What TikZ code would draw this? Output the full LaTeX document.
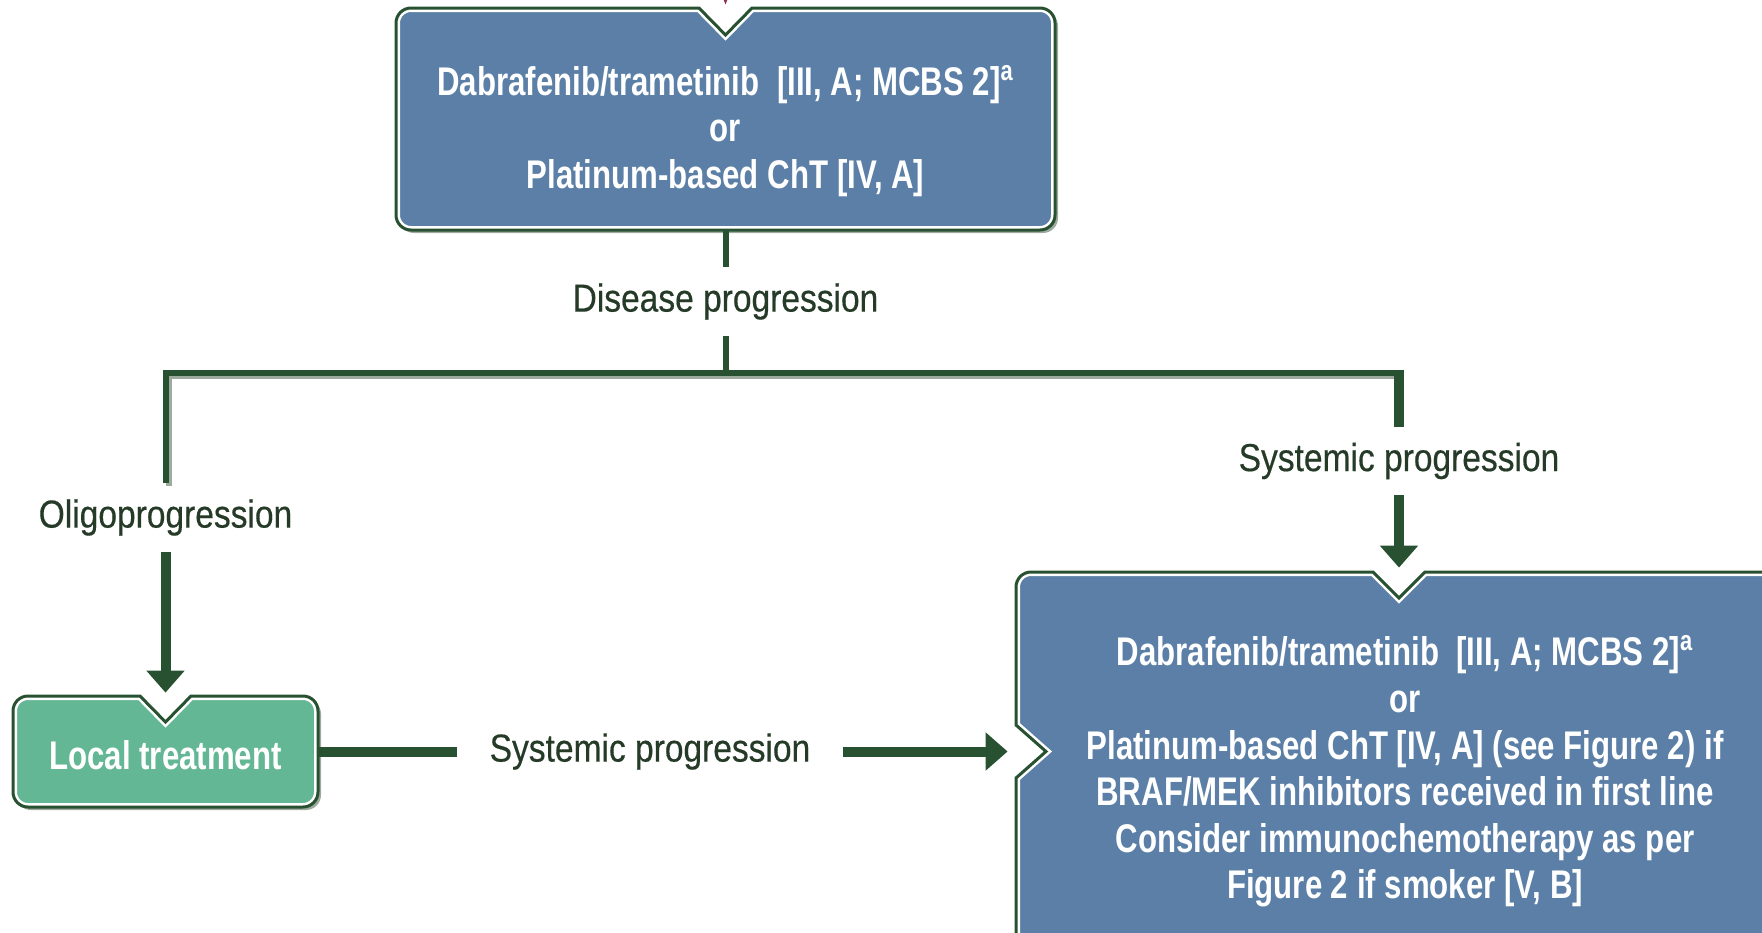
\documentclass[tikz,border=0pt]{standalone}
\usepackage{fontspec}
\setmainfont{Liberation Sans}
\newfontfamily\boxfont[FakeStretch=0.78]{Liberation Sans}
\newfontfamily\labelfont[FakeStretch=0.86,FakeBold=0.4]{Liberation Sans}
\usetikzlibrary{arrows.meta,positioning}

\definecolor{wiregreen}{HTML}{285132}
\definecolor{shadowgrey}{HTML}{9DAA9E}
\definecolor{steelbox}{HTML}{5B7FA6}
\definecolor{mintbox}{HTML}{63B794}
\definecolor{labelink}{HTML}{253B28}
\definecolor{tipmaroon}{HTML}{8E2F55}

% notched box: shadow, fill, white inner rim, green outline
\newcommand\notchedbox[2]{
	\fill[shadowgrey, transform canvas={shift={(1.5pt,-1.5pt)}}] #2;
	\fill[#1] #2;
	\begin{scope}
		\clip #2;
		\draw[white, line width=4pt] #2;
	\end{scope}
	\draw[wiregreen, line width=1.5pt, line join=miter] #2;
}

\tikzset{
	boxarea/.style={rectangle, inner sep=0pt},
	boxtext/.style={text=white, align=center, inner sep=0pt,
		font=\boxfont\bfseries\fontsize{20}{23.3}\selectfont},
	steplabel/.style={text=labelink, inner xsep=16pt, inner ysep=0pt, minimum height=34pt,
		font=\labelfont\fontsize{19.5}{22}\selectfont},
	thinwire/.style={draw=wiregreen, line width=3pt},
	thickwire/.style={draw=wiregreen, line width=5pt},
	flowtip/.style={-{Triangle[width=18.5pt,length=11pt]}},
}

\begin{document}
\begin{tikzpicture}[x=0.5pt, y=-0.5pt]

	\useasboundingbox (0,0) rectangle (1762,932);

	% boxes
	\notchedbox{steelbox}{(396,119) -- (396,23) arc[start angle=180, end angle=270, radius=15] -- (699,8) -- (725.5,35) -- (752,8) -- (1040,8) arc[start angle=270, end angle=360, radius=15] -- (1055,215) arc[start angle=0, end angle=90, radius=15] -- (411,230) arc[start angle=90, end angle=180, radius=15] -- cycle}
	\notchedbox{mintbox}{(13,752) -- (13,711) arc[start angle=180, end angle=270, radius=15] -- (140,696) -- (165.5,722) -- (191,696) -- (303,696) arc[start angle=270, end angle=360, radius=15] -- (318,792) arc[start angle=0, end angle=90, radius=15] -- (28,807) arc[start angle=90, end angle=180, radius=15] -- cycle}
	\notchedbox{steelbox}{(1016,880) -- (1016,778) -- (1046,751.5) -- (1016,725) -- (1016,587) arc[start angle=180, end angle=270, radius=15] -- (1373,572) -- (1399,598) -- (1425,572) -- (1800,572) -- (1800,965) -- (1016,965) -- cycle}

	\node[boxarea, minimum width=329.5pt, minimum height=111pt] (first) at (725.5,119) {};
	\node[boxarea, minimum width=152.5pt, minimum height=55.5pt] (local) at (165.5,751.5) {};
	\node[boxarea, minimum width=392pt, minimum height=196.5pt] (second) at (1408,768.5) {};

	\node[boxtext] (firsttext) at (725.5,131) {Dabrafenib/trametinib\ \ [III, A; MCBS 2]\textsuperscript{a}\\or\\Platinum-based ChT [IV, A]};
	\node[boxtext] (localtext) at (165.5,755) {Local treatment};
	\node[boxtext] (secondtext) at (1405,771.5) {Dabrafenib/trametinib\ \ [III, A; MCBS 2]\textsuperscript{a}\\or\\Platinum-based ChT [IV, A] (see Figure 2) if\\BRAF/MEK inhibitors received in first line\\Consider immunochemotherapy as per\\Figure 2 if smoker [V, B]};

	% labels on the connectors
	\node[steplabel] (dislabel) at (725.5,301.5) {Disease progression};
	\node[steplabel] (oligo) at (165.5,517.5) {Oligoprogression};
	\node[steplabel] (sysright) at (1399,461) {Systemic progression};
	\node[steplabel] (sysbottom) at (650,751.5) {Systemic progression};

	\coordinate (split) at (725.5,373);
	\coordinate (rightcorner) at (1399,373);
	\coordinate (above) at (725.5,-40);

	% connectors
	\draw[tipmaroon, line width=1pt, -{Triangle[width=6pt,length=8pt]}, shorten >=1.5pt] (above) -- (first.north);
	\draw[thinwire] (first.south) -- (dislabel);
	\draw[thinwire] (dislabel) -- (split);
	\draw[shadowgrey, line width=3pt, transform canvas={shift={(1.5pt,-1.5pt)}}] (oligo.north) |- (rightcorner);
	\draw[thinwire] (oligo.north) |- (rightcorner);
	\draw[thickwire] ([yshift=1.5pt]rightcorner) -- (sysright.north);
	\draw[thickwire, flowtip, shorten >=2pt] (sysright.south) -- (sysright.south |- second.north);
	\draw[thickwire, flowtip, shorten >=1.5pt] (oligo.south) -- (local.north);
	\draw[thickwire] (local.east) -- (sysbottom.west);
	\draw[thickwire, flowtip, shorten >=4pt] (sysbottom.east) -- (sysbottom.east -| second.west);

\end{tikzpicture}
\end{document}
